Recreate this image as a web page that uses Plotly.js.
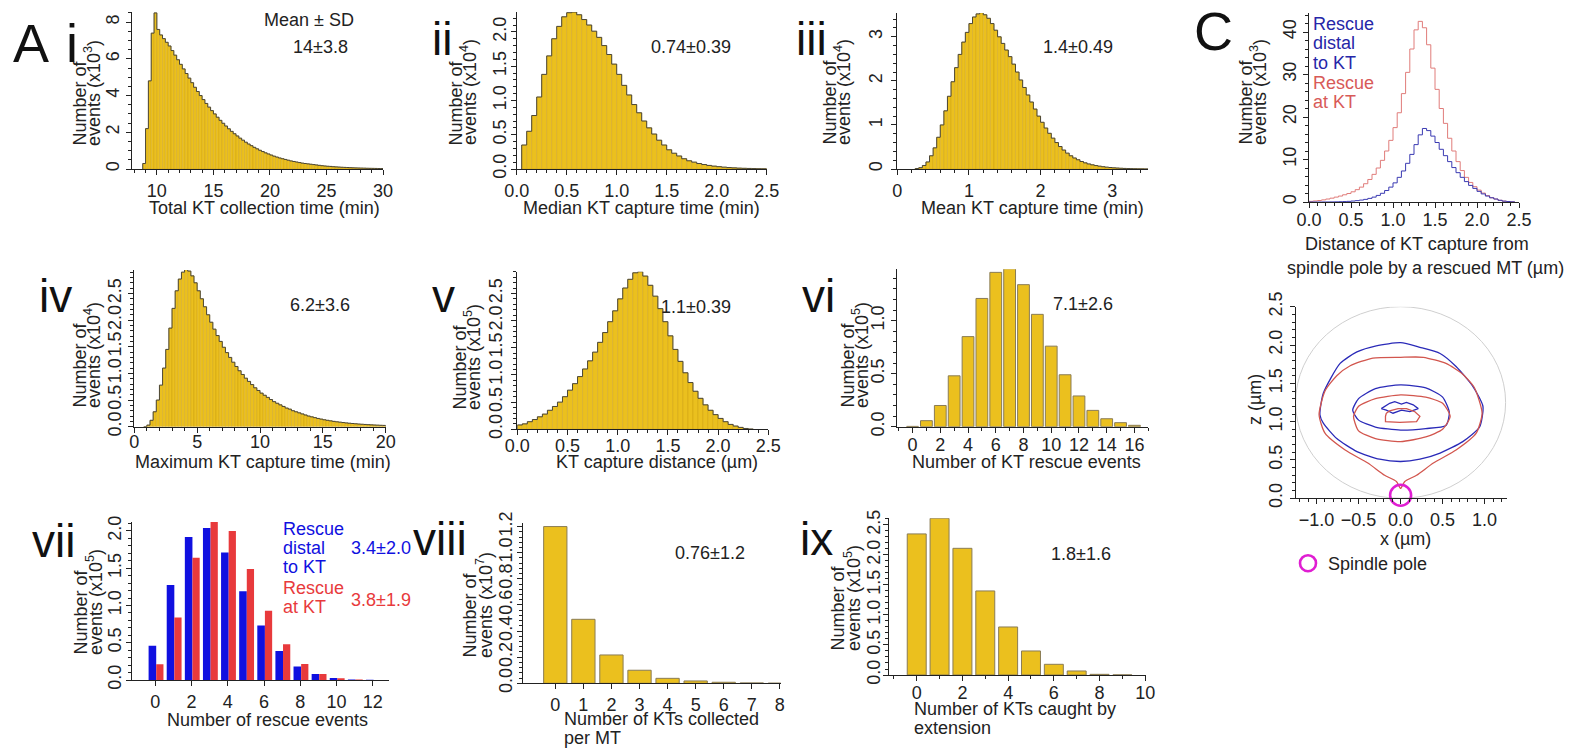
<!DOCTYPE html>
<html><head><meta charset="utf-8">
<script src="https://cdn.plot.ly/plotly-3.0.1.min.js"></script>
<style>body{margin:0;background:#fff}#chart{width:1573px;height:750px}</style>
</head><body><div id="chart"></div>
<script>
// ---------------- DATA ----------------
// A i: Total KT collection time (min); bins of 0.25 min starting 8.75; counts x10^3
const totalTimeBinStart = 8.75, totalTimeBinWidth = 0.25;
const totalTimeCounts = [0.3,2.2,4.8,7.4,8.5,7.6,7.3,7.1,6.9,6.7,6.45,6.2,5.95,5.7,5.45,5.2,4.95,4.7,4.45,4.22,4.0,3.78,3.57,3.37,3.18,3.0,2.82,2.65,2.49,2.34,2.19,2.05,1.92,1.8,1.68,1.57,1.46,1.36,1.27,1.18,1.1,1.02,0.95,0.88,0.82,0.76,0.7,0.65,0.6,0.56,0.52,0.48,0.44,0.41,0.38,0.35,0.32,0.3,0.28,0.26,0.24,0.22,0.2,0.18,0.165,0.15,0.14,0.125,0.115,0.105,0.095,0.087,0.08,0.073,0.066,0.06,0.055,0.05,0.045,0.04,0.036,0.033,0.03,0.027,0.024];
// A ii: Median KT capture time (min); bins 0.05 from 0.05; x10^4
const medianTimeBinStart = 0.05, medianTimeBinWidth = 0.05;
const medianTimeCounts = [0.35,0.55,0.78,1.05,1.38,1.65,1.9,2.08,2.22,2.28,2.29,2.25,2.18,2.1,2.01,1.92,1.8,1.67,1.53,1.38,1.22,1.08,0.94,0.82,0.7,0.6,0.51,0.42,0.35,0.28,0.23,0.19,0.15,0.12,0.1,0.08,0.065,0.052,0.042,0.034,0.027,0.021,0.017,0.013,0.01,0.008,0.006,0.004,0.003];
// A iii: Mean KT capture time (min); bins 0.05 from 0.25; x10^4
const meanTimeBinStart = 0.25, meanTimeBinWidth = 0.05;
const meanTimeCounts = [0.01,0.03,0.08,0.16,0.3,0.48,0.72,1.0,1.32,1.65,1.98,2.3,2.6,2.88,3.1,3.3,3.45,3.52,3.55,3.5,3.42,3.3,3.15,3.0,2.85,2.7,2.55,2.38,2.2,2.02,1.85,1.68,1.52,1.36,1.2,1.06,0.93,0.81,0.7,0.6,0.51,0.43,0.36,0.3,0.25,0.21,0.17,0.14,0.115,0.095,0.078,0.064,0.052,0.042,0.034,0.027,0.022,0.017,0.013,0.01,0.008,0.006,0.004,0.003,0.002];
// A iv: Maximum KT capture time (min); bins 0.25 from 0.75; x10^4
const maxTimeBinStart = 0.75, maxTimeBinWidth = 0.25;
const maxTimeCounts = [0.0,0.03,0.12,0.28,0.5,0.78,1.1,1.45,1.85,2.22,2.55,2.77,2.9,2.95,2.92,2.83,2.7,2.55,2.4,2.25,2.1,1.96,1.83,1.71,1.6,1.49,1.39,1.3,1.21,1.13,1.05,0.98,0.91,0.85,0.79,0.73,0.68,0.63,0.59,0.55,0.51,0.47,0.44,0.41,0.38,0.35,0.33,0.3,0.28,0.26,0.24,0.22,0.2,0.185,0.17,0.155,0.143,0.13,0.12,0.11,0.1,0.092,0.085,0.078,0.071,0.065,0.06,0.055,0.05,0.046,0.042,0.038,0.035,0.032,0.029,0.026,0.024];
// A v: KT capture distance (um); bins 0.05 from 0; x10^5
const distBinStart = 0, distBinWidth = 0.05;
const distCounts = [0.08,0.1,0.14,0.18,0.23,0.28,0.35,0.42,0.5,0.6,0.72,0.84,0.97,1.11,1.26,1.42,1.6,1.78,1.98,2.18,2.4,2.6,2.76,2.88,2.9,2.82,2.65,2.45,2.22,1.98,1.72,1.47,1.25,1.04,0.86,0.7,0.57,0.45,0.35,0.27,0.2,0.14,0.09,0.06,0.035,0.015,0.005];
// A vi: Number of KT rescue events; x10^5
const rescueEvents = [0,1,2,3,4,5,6,7,8,9,10,11,12,13,14,15,16];
const rescueCounts = [0.003,0.057,0.2,0.48,0.85,1.21,1.456,1.49,1.34,1.06,0.76,0.49,0.29,0.154,0.075,0.038,0.013];
// A vii: Number of rescue events; x10^5
const rescueNumber = [0,1,2,3,4,5,6,7,8,9,10,11,12];
const distalCounts = [0.46,1.275,1.92,2.04,1.71,1.19,0.73,0.39,0.18,0.08,0.027,0.008,0.002];
const atKTCounts = [0.21,0.84,1.64,2.12,2.0,1.49,0.93,0.48,0.215,0.08,0.022,0.006,0.001];
// A viii: Number of KTs collected per MT; x10^7
const collectedKTs = [0,1,2,3,4,5,6,7,8];
const collectedCounts = [1.2,0.49,0.217,0.1,0.038,0.018,0.008,0.003,0.001];
// A ix: Number of KTs caught by extension; x10^5
const caughtKTs = [0,1,2,3,4,5,6,7,8,9];
const caughtCounts = [2.35,2.61,2.11,1.4,0.8,0.4,0.178,0.067,0.011,0.002];
// C top: distance of KT capture from spindle pole by rescued MT (um); bins 0.05 from 0; x10^3
const capBinStart = 0, capBinWidth = 0.05;
const capDistalCounts = [0,0,0,0.005,0.01,0.02,0.04,0.07,0.1,0.15,0.22,0.32,0.45,0.62,0.85,1.15,1.55,2.05,2.7,3.5,4.5,5.8,7.3,9.1,11.2,13.5,15.8,17.3,16.8,15.5,14.0,12.4,10.9,9.5,8.1,6.9,5.8,4.8,3.9,3.2,2.5,1.9,1.4,1.0,0.7,0.4,0.2,0.1,0.04];
const capAtKTCounts = [0.15,0.25,0.35,0.5,0.7,0.9,1.15,1.4,1.7,2.0,2.4,2.9,3.5,4.3,5.3,6.5,8.0,9.8,12.0,14.5,17.5,21.0,25.5,30.5,36.0,40.5,42.5,41.0,37.0,31.5,26.5,22.0,18.5,15.0,12.0,9.5,7.4,5.8,4.6,3.6,2.8,2.1,1.5,1.0,0.7,0.4,0.2,0.1,0.05];
// C bottom: contours (x, z in um)
const distalOuterX = [-0.96,-0.92,-0.72,-0.52,-0.29,0,0.23,0.47,0.66,0.86,0.98,0.94,0.74,0.47,0.23,0,-0.25,-0.52,-0.76,-0.92,-0.96];
const distalOuterZ = [1.09,1.37,1.76,1.91,1.99,2.03,1.97,1.89,1.72,1.46,1.2,0.93,0.74,0.59,0.51,0.48,0.51,0.61,0.78,0.98,1.09];
const atKTOuterX = [-0.97,-0.9,-0.76,-0.6,-0.33,0,0.27,0.54,0.74,0.88,0.97,0.9,0.66,0.39,0.19,0.05,0.0,-0.05,-0.19,-0.39,-0.66,-0.9,-0.97];
const atKTOuterZ = [1.09,1.4,1.6,1.73,1.83,1.84,1.84,1.76,1.62,1.44,1.11,0.85,0.63,0.46,0.3,0.22,0.13,0.22,0.3,0.46,0.63,0.85,1.09];
const distalMidX = [-0.57,-0.5,-0.3,0,0.3,0.5,0.58,0.54,0.3,0,-0.3,-0.5,-0.57];
const distalMidZ = [1.15,1.3,1.43,1.48,1.44,1.32,1.12,0.95,0.91,0.89,0.93,1.02,1.15];
const atKTMidX = [-0.56,-0.5,-0.3,0,0.3,0.5,0.59,0.5,0.3,0,-0.3,-0.5,-0.56];
const atKTMidZ = [1.07,1.2,1.3,1.35,1.32,1.24,1.07,0.9,0.8,0.74,0.78,0.88,1.07];
const distalInnerX = [-0.23,-0.13,-0.07,0.01,0.07,0.15,0.21,0.11,0.01,-0.09,-0.17,-0.23];
const distalInnerZ = [1.17,1.24,1.26,1.23,1.25,1.22,1.17,1.13,1.15,1.11,1.15,1.17];
const atKTInnerX = [-0.17,-0.13,-0.03,0.07,0.17,0.23,0.19,-0.01,-0.18,-0.18,-0.17];
const atKTInnerZ = [1.11,1.14,1.17,1.17,1.13,1.07,1.0,0.99,1.0,1.07,1.11];
const spindleRadius = 1.25;
const poleX = [0], poleZ = [0.04];

// ---------------- LAYOUT HELPERS ----------------
const W = 1573, H = 750;
const FONT = '"Liberation Sans", Arial, Helvetica, sans-serif';
const GOLD = '#EBC01E', BLUE = '#1010E0', RED = '#E83A3C';
const layout = {width: W, height: H, margin: {l:0, r:0, t:0, b:0}, paper_bgcolor: '#fff', plot_bgcolor: 'rgba(0,0,0,0)',
  barmode: 'overlay', showlegend: true, font: {family: FONT, color: '#222'},
  legend: {x: 1288/W, y: 1-545/H, xanchor: 'left', yanchor: 'top', font: {size: 18, family: FONT, color: '#222'}, bgcolor: 'rgba(0,0,0,0)', itemwidth: 30},
  annotations: [], shapes: []};
const common = {showline: true, linecolor: '#222', linewidth: 1, ticks: 'outside', ticklen: 5, tickwidth: 1, tickcolor: '#222',
  showgrid: false, zeroline: false, tickfont: {size: 18, color: '#222', family: FONT}, fixedrange: true};
function axes(n, box, xr, yr, xt, yt) {
  const s = n === 1 ? '' : String(n);
  const xa = Object.assign({}, common, {domain: [box[0]/W, box[1]/W], range: xr, anchor: 'y' + s,
    dtick: xt.d, tick0: 0, tickformat: xt.f || '', ticklabelstandoff: xt.so || 0,
    minor: xt.m ? {dtick: xt.m, ticks: 'outside', ticklen: 3, tickcolor: '#222'} : {ticks: ''}});
  if (xt.vals) { xa.tickmode = 'array'; xa.tickvals = xt.vals; }
  layout['xaxis' + s] = xa;
  layout['yaxis' + s] = Object.assign({}, common, {domain: [1 - box[3]/H, 1 - box[2]/H], range: yr, anchor: 'x' + s, tickangle: -90,
    dtick: yt.d, tick0: 0, tickformat: yt.f || '', ticklabelstandoff: yt.so || 0,
    minor: yt.m ? {dtick: yt.m, ticks: 'outside', ticklen: 3, tickcolor: '#222'} : {ticks: ''}});
  return {xaxis: 'x' + s, yaxis: 'y' + s};
}
function T(text, x, y, size, color, xanchor, extra) {
  layout.annotations.push(Object.assign({text: text, x: x/W, y: 1 - y/H, xref: 'paper', yref: 'paper', showarrow: false,
    xanchor: xanchor || 'center', yanchor: 'middle', font: {family: FONT, size: size, color: color || '#222'}}, extra || {}));
}
function ytitle(exp, x1, x2, bottom) {
  T('Number of', x1, bottom, 18, '#222', 'center', {textangle: -90, yanchor: 'bottom'});
  T('events (x10<sup>' + exp + '</sup>)', x2, bottom, 18, '#222', 'center', {textangle: -90, yanchor: 'bottom'});
}
const traces = [];
function histo(start, w, counts, ax) {
  const centers = counts.map((c, i) => start + (i + 0.5) * w);
  const edges = counts.map((c, i) => start + i * w);
  const end = start + counts.length * w;
  traces.push(Object.assign({type: 'bar', x: centers, y: counts, width: w, showlegend: false,
    marker: {color: GOLD, line: {color: 'rgba(185,140,10,0.55)', width: 0.5}}}, ax));
  traces.push(Object.assign({type: 'scatter', mode: 'lines', x: [start].concat(edges, [end, end]),
    y: [0].concat(counts, [counts[counts.length - 1], 0]), line: {shape: 'hv', color: '#4a4636', width: 1}, showlegend: false}, ax));
}
function stepLine(start, w, counts, ax, color) {
  const edges = counts.map((c, i) => start + i * w);
  const end = start + counts.length * w;
  traces.push(Object.assign({type: 'scatter', mode: 'lines', x: edges.concat([end]), y: counts.concat([counts[counts.length - 1]]),
    line: {shape: 'hv', color: color, width: 1}, showlegend: false}, ax));
}
function bars(x, y, ax, w, color, lineColor, offset) {
  const t = Object.assign({type: 'bar', x: x, y: y, width: w, showlegend: false,
    marker: {color: color, line: {color: lineColor, width: lineColor ? 1 : 0}}}, ax);
  if (offset !== undefined) t.offset = offset;
  traces.push(t);
}

// ---------------- PANELS ----------------
const a1 = axes(1, [132, 383, 12, 169], [7.8, 30], [0, 8.55], {d: 5, m: 1}, {d: 2, m: 0.5, so: 0});
histo(totalTimeBinStart, totalTimeBinWidth, totalTimeCounts, a1);
const a2 = axes(2, [516.7, 766.7, 12, 169], [0, 2.5], [0, 2.29], {d: 0.5, m: 0.1, f: '.1f'}, {d: 0.5, m: 0.1, f: '.1f', so: -2});
histo(medianTimeBinStart, medianTimeBinWidth, medianTimeCounts, a2);
const a3 = axes(3, [897.3, 1148, 13, 169], [0, 3.5], [0, 3.54], {d: 1, m: 0.2}, {d: 1, m: 0.2, so: 2});
histo(meanTimeBinStart, meanTimeBinWidth, meanTimeCounts, a3);
const a4 = axes(4, [1309, 1519, 13.3, 202], [0, 2.5], [0, 44.4], {d: 0.5, m: 0.1, f: '.1f', so: -4}, {d: 10, m: 2, so: 0});
stepLine(capBinStart, capBinWidth, capAtKTCounts, a4, '#E07C7A');
stepLine(capBinStart, capBinWidth, capDistalCounts, a4, '#3A3AB2');
const a5 = axes(5, [134.3, 385.7, 270, 426.7], [0, 20], [0, 2.94], {d: 5, m: 1, so: -6}, {d: 0.5, m: 0.1, f: '.1f', so: 0});
histo(maxTimeBinStart, maxTimeBinWidth, maxTimeCounts, a5);
const a6 = axes(6, [517.3, 768.3, 271.7, 429.3], [0, 2.5], [0, 2.9], {d: 0.5, m: 0.1, f: '.1f', so: -5}, {d: 0.5, m: 0.1, f: '.1f', so: 2});
histo(distBinStart, distBinWidth, distCounts, a6);
const a7 = axes(7, [897.3, 1148.3, 269.3, 426.7], [-1.1, 17], [0, 1.485], {d: 2, m: 1, so: -3}, {d: 0.5, m: 0.1, f: '.1f', so: 0});
bars(rescueEvents, rescueCounts, a7, 0.85, GOLD, '#8a7c55');
const a8 = axes(8, [132.3, 389, 522, 680], [-1.27, 12.9], [0, 2.12], {d: 2}, {d: 0.5, m: 0.1, f: '.1f', so: -2});
bars(rescueNumber, distalCounts, a8, 0.42, BLUE, null, -0.37);
bars(rescueNumber, atKTCounts, a8, 0.4, RED, null, 0.05);
const a9 = axes(9, [523.3, 780.7, 523.3, 683.3], [-1.14, 8.03], [0, 1.225], {d: 1, vals: collectedKTs}, {d: 0.2, m: 0.04, f: '.1f', so: -2});
bars(collectedKTs, collectedCounts, a9, 0.83, GOLD, '#8a7c55');
const a10 = axes(10, [889.3, 1145.7, 518.3, 675], [-1.2, 10.02], [0, 2.61], {d: 2, m: 1, so: -4}, {d: 0.5, m: 0.1, f: '.1f', so: -4});
bars(caughtKTs, caughtCounts, a10, 0.83, GOLD, '#8a7c55');
const a11 = axes(11, [1296, 1507.3, 306.7, 498.3], [-1.245, 1.27], [0, 2.5], {d: 0.5, m: 0.1, f: '.1f'}, {d: 0.5, m: 0.1, f: '.1f', so: 1});
layout.shapes.push({type: 'circle', xref: 'x11', yref: 'y11', x0: -spindleRadius, x1: spindleRadius, y0: 0, y1: 2 * spindleRadius,
  line: {color: '#cfcfcf', width: 1}, layer: 'below'});
[[distalOuterX, distalOuterZ, '#2a2ab8', 'spline'], [atKTOuterX, atKTOuterZ, '#d2564e', 'spline'], [distalMidX, distalMidZ, '#2a2ab8', 'spline'],
 [atKTMidX, atKTMidZ, '#d2564e', 'spline'], [distalInnerX, distalInnerZ, '#2a2ab8', 'linear'], [atKTInnerX, atKTInnerZ, '#d2564e', 'linear']].forEach(c => {
  traces.push(Object.assign({type: 'scatter', mode: 'lines', x: c[0], y: c[1], line: {color: c[2], width: 1.3, shape: c[3], smoothing: 0.6}, showlegend: false}, a11));
});
traces.push(Object.assign({type: 'scatter', mode: 'markers', x: poleX, y: poleZ, name: 'Spindle pole', showlegend: true, cliponaxis: false,
  marker: {symbol: 'circle-open', size: 21, color: '#E01ED2', line: {width: 2.6, color: '#E01ED2'}}}, a11));

// ---------------- TEXT ----------------
T('A', 11, 43, 54, '#111', 'left');
T('i', 64, 43, 54, '#111', 'left');
T('ii', 430, 39, 46, '#111', 'left');
T('iii', 794, 39, 46, '#111', 'left');
T('C', 1192, 31, 54, '#111', 'left');
T('iv', 37, 296, 46, '#111', 'left');
T('v', 430, 296, 46, '#111', 'left');
T('vi', 800, 296, 46, '#111', 'left');
T('vii', 30, 541, 46, '#111', 'left');
T('viii', 411, 539, 46, '#111', 'left');
T('ix', 798, 539, 46, '#111', 'left');

T('Mean ± SD', 309, 20, 18);
T('14±3.8', 320, 47, 18);
T('0.74±0.39', 691, 47, 18);
T('1.4±0.49', 1078, 47, 18);
T('6.2±3.6', 320, 305, 18);
T('1.1±0.39', 696, 307, 18);
T('7.1±2.6', 1083, 304, 18);
T('0.76±1.2', 710, 553, 18);
T('1.8±1.6', 1081, 554, 18);
T('Rescue', 281, 529, 18, BLUE, 'left');
T('distal', 281, 548, 18, BLUE, 'left');
T('to KT', 281, 567, 18, BLUE, 'left');
T('3.4±2.0', 381, 548, 18, BLUE);
T('Rescue', 281, 588, 18, RED, 'left');
T('at KT', 281, 607, 18, RED, 'left');
T('3.8±1.9', 381, 600, 18, RED);
T('Rescue', 1311, 24, 18, '#2626a8', 'left');
T('distal', 1311, 43, 18, '#2626a8', 'left');
T('to KT', 1311, 63, 18, '#2626a8', 'left');
T('Rescue', 1311, 83, 18, '#d85a58', 'left');
T('at KT', 1311, 102, 18, '#d85a58', 'left');

T('Total KT collection time (min)', 264, 208, 18);
T('Median KT capture time (min)', 641, 208, 18);
T('Mean KT capture time (min)', 1032, 208, 18);
T('Distance of KT capture from', 1417, 244, 18);
T('spindle pole by a rescued MT (µm)', 1425, 268, 18);
T('Maximum KT capture time (min)', 263, 462, 18);
T('KT capture distance (µm)', 657, 462, 18);
T('Number of KT rescue events', 1026, 462, 18);
T('Number of rescue events', 267, 720, 18);
T('Number of KTs collected', 562, 719, 18, '#222', 'left');
T('per MT', 562, 738, 18, '#222', 'left');
T('Number of KTs caught by', 912, 709, 18, '#222', 'left');
T('extension', 912, 728, 18, '#222', 'left');
T('x (µm)', 1405, 539, 18);
T('z (µm)', 1255, 400, 18, '#222', 'center', {textangle: -90});

ytitle(3, 79, 92, 148);
ytitle(4, 456, 469, 147);
ytitle(4, 830, 843, 147);
ytitle(3, 1246, 1259, 147);
ytitle(4, 79, 92, 410);
ytitle(5, 459, 472, 412);
ytitle(5, 847, 860, 410);
ytitle(5, 80, 94, 657);
ytitle(7, 469, 484, 660);
ytitle(5, 837, 852, 653);

Plotly.newPlot('chart', traces, layout, {staticPlot: true, displayModeBar: false});
</script></body></html>
